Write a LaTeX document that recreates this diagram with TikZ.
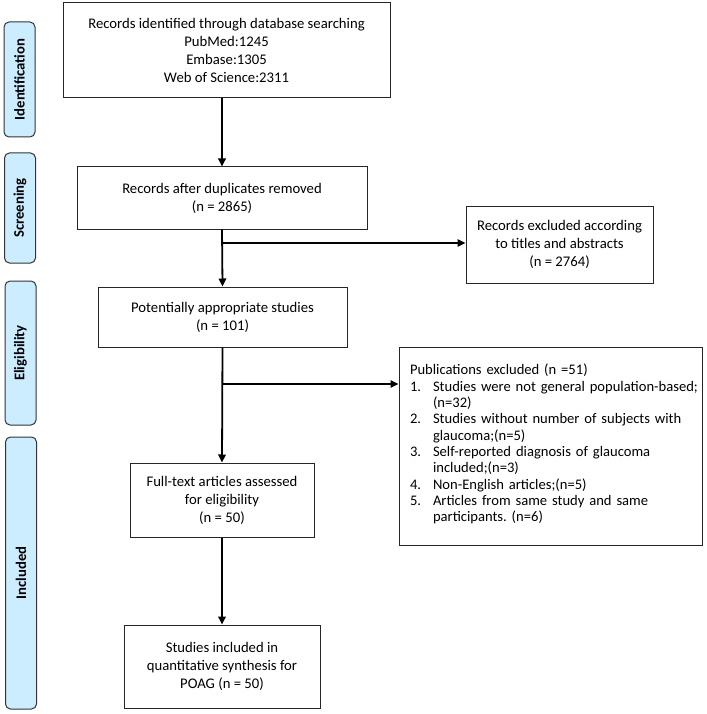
\documentclass[tikz,border=0pt]{standalone}
\usepackage{fontspec}
\setmainfont{Carlito}
\usetikzlibrary{arrows.meta}
\definecolor{phasefill}{RGB}{204,236,255}
\newcommand\mainsz{\fontsize{14.7}{18}\selectfont}
\newcommand\pubsz{\fontsize{14.6}{16.3}\selectfont}
\frenchspacing
\begin{document}
\begin{tikzpicture}[x=1pt,y=-1pt,
  box/.style={draw=black!85, line width=1pt, inner sep=0pt, align=center, font=\mainsz},
  phase/.style={draw=black!80, line width=1pt, fill=phasefill, rounded corners=5pt,
    inner sep=0pt, rotate=90, minimum height=31pt, font=\mainsz\bfseries},
  arr/.style={line width=1.8pt, -{Triangle[length=8pt,width=7.5pt]}},
]
\useasboundingbox (0,0) rectangle (706,714);

% phase bars
\node[phase, minimum width=115pt] (pid) at (19.5,79.5) {Identification};
\node[phase, minimum width=110pt] (pscr) at (20,208) {Screening};
\node[phase, minimum width=144pt] (pelig) at (20.5,353) {Eligibility};
\node[phase, minimum width=272pt] (pinc) at (21,573) {Included};

% boxes
\node[box, minimum width=327pt, minimum height=95pt] (id) at (226.5,50.5)
  {Records identified through database searching\\PubMed:1245\\Embase:1305\\Web of Science:2311};
\node[box, minimum width=290pt, minimum height=62pt] (scr) at (222,198)
  {Records after duplicates removed\\(n = 2865)};
\node[box, minimum width=187pt, minimum height=77pt] (exc) at (559.5,244.5)
  {Records excluded according\\to titles and abstracts\\(n = 2764)};
\node[box, minimum width=249pt, minimum height=60pt] (pot) at (222.5,317)
  {Potentially appropriate studies\\(n = 101)};
\node[box, minimum width=303pt, minimum height=198pt, text width=281pt, inner xsep=11pt,
  align=left, font=\pubsz] (pub) at (550.5,446)
  {\begin{tabular}{@{}p{23pt}@{}l@{}}
  \multicolumn{2}{@{}l@{}}{Publications excluded (n =51)}\\
  1. & Studies were not general population-based;\\
     & (n=32)\\
  2. & Studies without number of subjects with\\
     & glaucoma;(n=5)\\
  3. & Self-reported diagnosis of glaucoma\\
     & included;(n=3)\\
  4. & Non-English articles;(n=5)\\
  5. & Articles from same study and same\\
     & participants. (n=6)\\[2pt]
  \end{tabular}};
\node[box, minimum width=184pt, minimum height=74pt] (full) at (222,500)
  {Full-text articles assessed\\for eligibility\\(n = 50)};
\node[box, minimum width=196pt, minimum height=83pt] (fin) at (222,666.5)
  {Studies included in\\quantitative synthesis for\\POAG (n = 50)};

% connectors
\draw[arr] (scr.north |- id.south) -- (scr.north);
\draw[arr] (scr.south) -- (pot.north);
\coordinate (b1) at (222,243);
\draw[arr, line width=1.5pt] (b1) -- (b1 -| exc.west);
\draw[arr] (pot.south) -- (full.north);
\coordinate (b2) at (222,384);
\draw[arr, line width=1.5pt] (b2) -- (b2 -| pub.west);
\draw[arr] (full.south) -- (fin.north);
\end{tikzpicture}
\end{document}
